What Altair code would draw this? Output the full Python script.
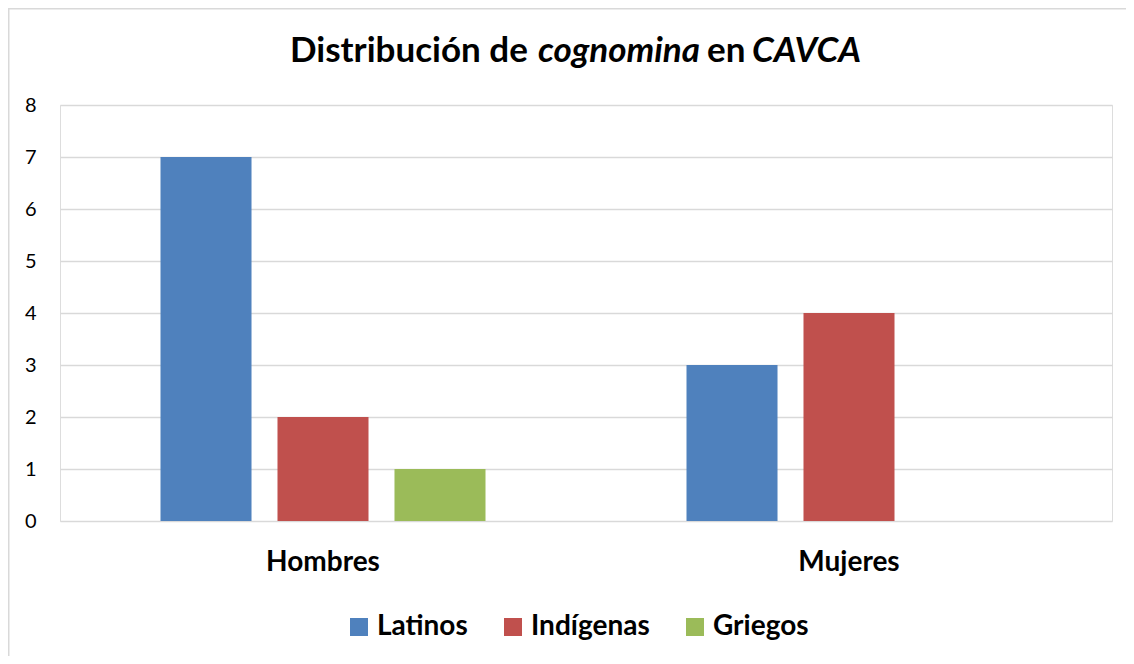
import altair as alt
import pandas as pd

categories = ["Hombres", "Mujeres"]
series = ["Latinos", "Indígenas", "Griegos"]
latinos = [7, 3]
indigenas = [2, 4]
griegos = [1, 0]
colors = ["#4F81BD", "#C0504D", "#9BBB59"]
y_ticks = [0, 1, 2, 3, 4, 5, 6, 7, 8]

title_texts = ["Distribución de", "cognomina", "en", "CAVCA"]
title_styles = ["normal", "italic", "normal", "italic"]
title_left = [290, 538, 707, 752]  # page x of each piece's left edge

rows = []
for i, c in enumerate(categories):
    for s, vals in zip(series, [latinos, indigenas, griegos]):
        rows.append({"cat": c, "serie": s, "valor": vals[i]})
df = pd.DataFrame(rows)

FONT = "Lato"
W, H = 1052, 416
PL, PT = 52, 97

bars = alt.Chart(df).mark_bar().encode(
    x=alt.X("cat:N", sort=categories, title=None,
            scale=alt.Scale(paddingInner=0, paddingOuter=0),
            axis=alt.Axis(labelAngle=0, labelFont=FONT, labelFontSize=28, labelFontWeight="bold",
                          labelColor="#000000", ticks=False, domain=False, labelPadding=27, grid=False)),
    xOffset=alt.XOffset("serie:N", sort=series,
                        scale=alt.Scale(paddingInner=0.222, paddingOuter=0.859)),
    y=alt.Y("valor:Q", title=None,
            scale=alt.Scale(domain=[0, 8], nice=False),
            axis=alt.Axis(values=y_ticks, labelFont=FONT, labelFontSize=20, labelColor="#000000",
                          ticks=False, domain=False, labelPadding=24, gridColor="#D9D9D9", gridWidth=1.3)),
    color=alt.Color("serie:N", sort=series, title=None,
                    scale=alt.Scale(domain=series, range=colors),
                    legend=alt.Legend(orient="none", legendX=285, legendY=508, direction="horizontal",
                                      symbolType="square", symbolSize=324, symbolStrokeWidth=0,
                                      labelFont=FONT, labelFontSize=28, labelFontWeight="bold",
                                      labelColor="#000000", columnPadding=31, labelOffset=4)),
)

title_parts = []
for t, px, st in zip(title_texts, title_left, title_styles):
    title_parts.append(
        alt.Chart(pd.DataFrame({"t": [t]})).mark_text(
            font=FONT, fontSize=35, fontWeight="bold", fontStyle=st, align="left",
            baseline="alphabetic", color="#000000"
        ).encode(text="t:N", x=alt.value(px - 8 - PL), y=alt.value(62 - 8 - PT))
    )

border = alt.Chart(pd.DataFrame({"a": [0]})).mark_rect(
    fill=None, stroke="#D9D9D9", strokeWidth=2
).encode(x=alt.value(-PL + 0.5), x2=alt.value(1200), y=alt.value(-PT + 0.5), y2=alt.value(700))

chart = alt.layer(border, bars, *title_parts).properties(
    width=W, height=H,
    padding={"left": PL, "top": PT, "right": 14, "bottom": 135},
    autosize=alt.AutoSizeParams(type="none"),
).configure_view(stroke=None).configure(background="#FFFFFF")

chart.save("out.html", embed_options={"renderer": "svg", "actions": False})
